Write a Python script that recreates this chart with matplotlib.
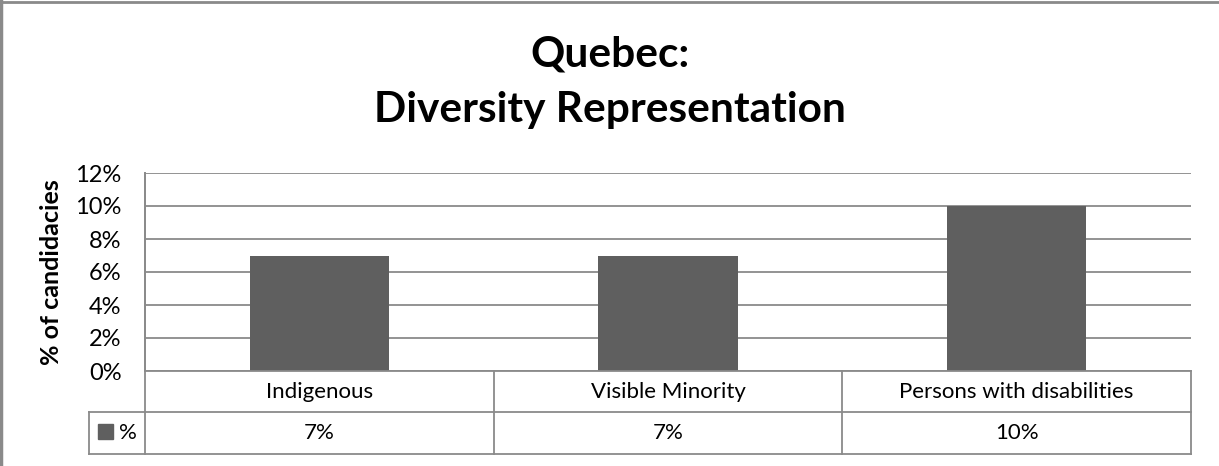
import matplotlib.pyplot as plt
import matplotlib.transforms as mtransforms
from matplotlib.patches import Rectangle
from matplotlib.lines import Line2D

categories = ["Indigenous", "Visible Minority", "Persons with disabilities"]
values = [0.07, 0.07, 0.10]
value_labels = ["7%", "7%", "10%"]
yticks = [0.0, 0.02, 0.04, 0.06, 0.08, 0.10, 0.12]
ytick_labels = ["0%", "2%", "4%", "6%", "8%", "10%", "12%"]
series_name = "%"

W, H = 1219, 466
bar_color = "#5f5f5f"
line_color = "#8a8a8a"
plt.rcParams['font.family'] = ['Lato', 'DejaVu Sans']

fig = plt.figure(figsize=(W / 100, H / 100), dpi=100)

# plot area in pixels
left, right, top, zero = 145, 1191, 173, 371
row1, row2 = 412, 454
legend_left = 89
fs = 16

ax = fig.add_axes([left / W, 1 - zero / H, (right - left) / W, (zero - top) / H])
ax.bar(range(len(categories)), values, width=0.4, color=bar_color, zorder=3)
ax.set_xlim(-0.5, len(categories) - 0.5)
ax.set_ylim(0, 0.12)
ax.set_yticks(yticks)
ax.set_yticklabels(ytick_labels, fontsize=17)
ax.set_xticks([])
ax.tick_params(axis='y', length=0, pad=17)
ax.grid(axis='y', color=line_color, linewidth=1.3, zorder=0)
for s in ['top', 'right', 'bottom']:
    ax.spines[s].set_visible(False)
ax.spines['left'].set_color(line_color)
ax.spines['left'].set_linewidth(1.3)

def fy(py):
    return 1 - py / H

def fx(px):
    return px / W

fig.text(fx(52), fy(272), "% of candidacies", rotation=90, ha='center', va='center',
         fontsize=18, fontweight='bold')

# data table below the axes
lines = [
    ((left, right), (zero, zero)),
    ((legend_left, right), (row1, row1)),
    ((legend_left, right), (row2, row2)),
    ((legend_left, legend_left), (row1, row2)),
    ((left, left), (top, row2)),
    ((right, right), (zero, row2)),
]
for xs, ys in lines:
    fig.add_artist(Line2D([fx(xs[0]), fx(xs[1])], [fy(ys[0]), fy(ys[1])],
                          color=line_color, linewidth=1.3, transform=fig.transFigure))

blend = mtransforms.blended_transform_factory(ax.transData, fig.transFigure)
for i in range(1, len(categories)):
    fig.add_artist(Line2D([i - 0.5, i - 0.5], [fy(zero), fy(row2)], color=line_color,
                          linewidth=1.3, transform=blend))
for i, (c, v) in enumerate(zip(categories, value_labels)):
    fig.text(i, fy((zero + row1) / 2), c, transform=blend, ha='center', va='center', fontsize=fs)
    fig.text(i, fy((row1 + row2) / 2), v, transform=blend, ha='center', va='center', fontsize=fs)

fig.add_artist(Rectangle((fx(98), fy(439)), fx(15), 15 / H, color=bar_color,
                         transform=fig.transFigure))
fig.text(fx(119), fy((row1 + row2) / 2), series_name, ha='left', va='center', fontsize=fs)

fig.text(0.5, fy(67), "Quebec:", ha='center', va='baseline', fontsize=30.5, fontweight='bold')
fig.text(0.5, fy(122), "Diversity Representation", ha='center', va='baseline', fontsize=30.5,
         fontweight='bold')

# outer chart border (only left and top visible)
fig.add_artist(Line2D([fx(1), fx(1)], [0, 1], color=line_color, linewidth=2.5,
                      transform=fig.transFigure))
fig.add_artist(Line2D([0, 1], [fy(1.5), fy(1.5)], color=line_color, linewidth=2,
                      transform=fig.transFigure))

fig.savefig("out.png", dpi=100)
